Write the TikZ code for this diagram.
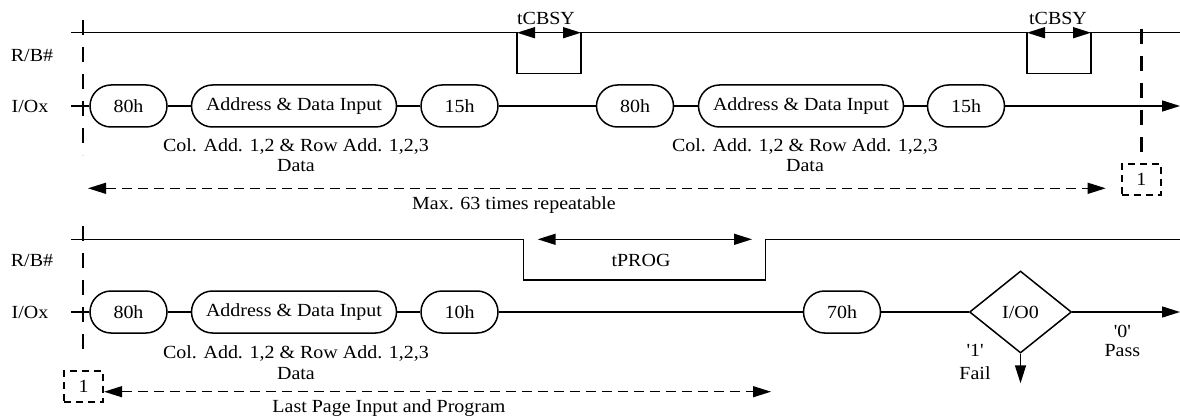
\documentclass[tikz,border=0pt]{standalone}
\usepackage{fontspec}
\setmainfont{Liberation Serif}[FakeStretch=1.08]
\usetikzlibrary{arrows.meta,shapes.geometric}

\begin{document}
\begin{tikzpicture}[x=1pt,y=-1pt,font=\fontsize{18.5}{21}\selectfont,
        sig/.style={line width=1.5pt},
        cmd/.style={draw, line width=1.5pt, rounded corners=21pt, minimum height=42pt, inner sep=0pt},
        chk/.style={draw, diamond, line width=1.5pt, aspect=1.25, minimum width=102pt, minimum height=82pt, inner sep=0pt},
        tip/.style={-{Triangle[length=18pt,width=11pt]}},
        tips/.style={{Triangle[length=18pt,width=11pt]}-{Triangle[length=18pt,width=11pt]}},
        bar/.style={line width=2.4pt, dash pattern=on 15pt off 12pt},
        span/.style={line width=1.3pt, dash pattern=on 10pt off 6pt},
        loopbox/.style={draw, line width=2.2pt, dash pattern=on 7pt off 5pt, minimum width=39pt, minimum height=31pt, inner sep=0pt}]
        \useasboundingbox (0,0) rectangle (1180,417);

        % Upper part: repeated page input.
        \node (rb1) at (32,55) {R/B\#};
        \node (io1) at (30,106) {I/Ox};
        \draw[sig] (71,32.7) -- (517,32.7) -- (517,73.3) -- (581,73.3) -- (581,32.7) -- (1027,32.7) -- (1027,73.3) -- (1091,73.3) -- (1091,32.7) -- (1180,32.7); % Busy pulses.
        \draw[sig, tips] (517,32.7) -- (581,32.7);
        \draw[sig, tips] (1027,32.7) -- (1091,32.7);
        \node (tc1) at (546,18) {tCBSY};
        \node (tc2) at (1058,18) {tCBSY};

        \node[cmd, minimum width=77pt] (a1) at (128.5,106) {80h};
        \node[cmd, minimum width=205pt] (b1) at (294,106) {Address \& Data Input};
        \node[cmd, minimum width=77pt] (c1) at (459.5,106) {15h};
        \node[cmd, minimum width=77pt] (a2) at (635,106) {80h};
        \node[cmd, minimum width=205pt] (b2) at (801,106) {Address \& Data Input};
        \node[cmd, minimum width=77pt] (c2) at (966,106) {15h};
        \coordinate (i0) at (71,106);
        \coordinate (i9) at (1180,106);
        \draw[sig] (i0) -- (a1) -- (b1) -- (c1) -- (a2) -- (b2) -- (c2);
        \draw[sig, tip] (c2) -- (i9);

        \node (col1) at (296,146.7) {Col. Add. 1,2 \& Row Add. 1,2,3};
        \node (dat1) at (296,165.7) {Data};
        \node (col2) at (805,146.7) {Col. Add. 1,2 \& Row Add. 1,2,3};
        \node (dat2) at (805,165.7) {Data};

        \node[loopbox] (k1) at (1141.3,179.5) {1};
        \draw[bar] (83,20) -- (83,155);
        \draw[bar] (k1.north) ++(0,-11) -- (1141.3,20);
        \coordinate (m0) at (88,188.3);
        \draw[span, tips] (m0) -- (k1.west |- m0) [shorten >=15pt];
        \node (max) at (514,205) {Max. 63 times repeatable};

        % Lower part: last page and status read.
        \node (rb2) at (32,260) {R/B\#};
        \node (io2) at (30,312) {I/Ox};
        \draw[sig] (71,239.3) -- (523.5,239.3) -- (523.5,280) -- (765.6,280) -- (765.6,239.3) -- (1180,239.3); % Program busy.
        \draw[sig, tips] (537.7,239.3) -- (752,239.3);
        \node (tp) at (641,260) {tPROG};

        \node[cmd, minimum width=77pt] (a3) at (128.5,312) {80h};
        \node[cmd, minimum width=205pt] (b3) at (294,312) {Address \& Data Input};
        \node[cmd, minimum width=77pt] (c3) at (459.5,312) {10h};
        \node[cmd, minimum width=77pt] (d3) at (842,312) {70h};
        \node[chk] (e3) at (1020.5,312) {I/O0};
        \coordinate (j0) at (71,312);
        \coordinate (j9) at (1180,312);
        \coordinate (fl) at (1020.5,383.3);
        \draw[sig] (j0) -- (a3) -- (b3) -- (c3) -- (d3) -- (e3);
        \draw[sig, tip] (e3) -- (j9);
        \draw[sig, tip] (e3.south) -- (fl);
        \node (one) at (975,350) {\textquotesingle 1\textquotesingle};
        \node (fail) at (975,372.7) {Fail};
        \node (zero) at (1122.3,331) {\textquotesingle 0\textquotesingle};
        \node (pass) at (1122.3,350.7) {Pass};

        \node (col3) at (296,353.3) {Col. Add. 1,2 \& Row Add. 1,2,3};
        \node (dat3) at (296,373.3) {Data};

        \node[loopbox] (k2) at (83.5,386.5) {1};
        \draw[bar] (83,226) -- (83,360);
        \coordinate (l9) at (771,391.7);
        \draw[span, tips] (k2.east |- l9) -- (l9);
        \node (last) at (389,408) {Last Page Input and Program};
    \end{tikzpicture}
\end{document}
